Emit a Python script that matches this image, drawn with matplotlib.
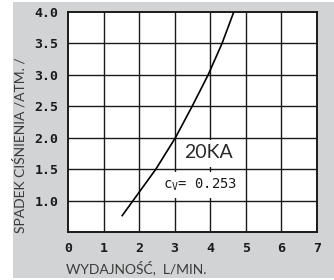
"""Pressure drop vs. flow chart for valve 20KA."""

from matplotlib import pyplot as plt
from matplotlib.patches import Rectangle


FLOW_LPM = [1.51, 1.83, 2.47, 3.02, 3.49, 3.94, 4.33, 4.66]
PRESSURE_DROP_ATM = [0.75, 1.0, 1.5, 2.0, 2.5, 3.0, 3.5, 4.0]

X_TICKS = [0, 1, 2, 3, 4, 5, 6, 7]
Y_TICKS = [1.0, 1.5, 2.0, 2.5, 3.0, 3.5, 4.0]

X_LABEL = "WYDAJNOŚĆ,  L/MIN."
Y_LABEL = "SPADEK CIŚNIENIA /ATM. /"
MODEL_NAME = "20KA"
CV_TEXT = r"c$_{\mathrm{V}}$= 0.253"

BACKGROUND = "#d1d3d4"
LABEL_COLOR = "#3a3a3a"


def main() -> None:
    plt.rcParams["mathtext.fontset"] = "custom"
    plt.rcParams["mathtext.rm"] = "DejaVu Sans Mono"

    fig = plt.figure(figsize=(3.34, 2.8), dpi=100)
    fig.patch.set_facecolor("white")
    fig.patches.append(
        Rectangle((13 / 334, 2 / 280), 1 - 13 / 334, 1 - 4 / 280,
                  transform=fig.transFigure, facecolor=BACKGROUND,
                  edgecolor="none", zorder=-10)
    )

    ax = fig.add_axes([68 / 334, 1 - 232 / 280, (317 - 68) / 334, (232 - 12) / 280])
    ax.set_facecolor("white")
    ax.set_xlim(0, 7)
    ax.set_ylim(0.5, 4.0)

    for x in X_TICKS[1:-1]:
        ax.axvline(x, color="#1a1a1a", lw=1.0, zorder=1)
    for y in Y_TICKS[:-1]:
        ax.axhline(y, color="#1a1a1a", lw=1.0, zorder=1)

    ax.plot(FLOW_LPM, PRESSURE_DROP_ATM, color="black", lw=1.2, zorder=3,
            solid_capstyle="butt")

    # white label panels hiding the grid behind the annotations
    ax.add_patch(Rectangle((3.3, 1.54), 1.55, 0.42, facecolor="white",
                           edgecolor="none", zorder=2))
    ax.add_patch(Rectangle((2.8, 1.04), 2.05, 0.42, facecolor="white",
                           edgecolor="none", zorder=2))

    for spine in ax.spines.values():
        spine.set_linewidth(1.4)
        spine.set_color("#1a1a1a")

    ax.set_xticks(X_TICKS)
    ax.set_xticklabels([str(v) for v in X_TICKS])
    ax.set_yticks(Y_TICKS)
    ax.set_yticklabels([f"{v:.1f}" for v in Y_TICKS])
    ax.tick_params(length=0, pad=7, labelsize=9.5, labelcolor="#1a1a1a")
    for label in ax.get_xticklabels() + ax.get_yticklabels():
        label.set_family("DejaVu Sans Mono")
        label.set_weight("bold")

    ax.text(3.94, 1.76, MODEL_NAME, ha="center", va="center", fontsize=14,
            family="Lato", color="#2a2a2a", zorder=4)
    ax.text(3.72, 1.25, CV_TEXT, ha="center", va="center", fontsize=10,
            family="DejaVu Sans Mono", color="#1a1a1a", zorder=4)

    fig.text(66 / 334, 1 - 268 / 280, X_LABEL, ha="left", va="center",
             fontsize=10, family="Lato", color=LABEL_COLOR)
    fig.text(20 / 334, 1 - 233 / 280, Y_LABEL, ha="center", va="bottom",
             rotation=90, fontsize=10, family="Lato", color=LABEL_COLOR)

    fig.savefig("out.png", dpi=100, facecolor=fig.get_facecolor())


if __name__ == "__main__":
    main()
